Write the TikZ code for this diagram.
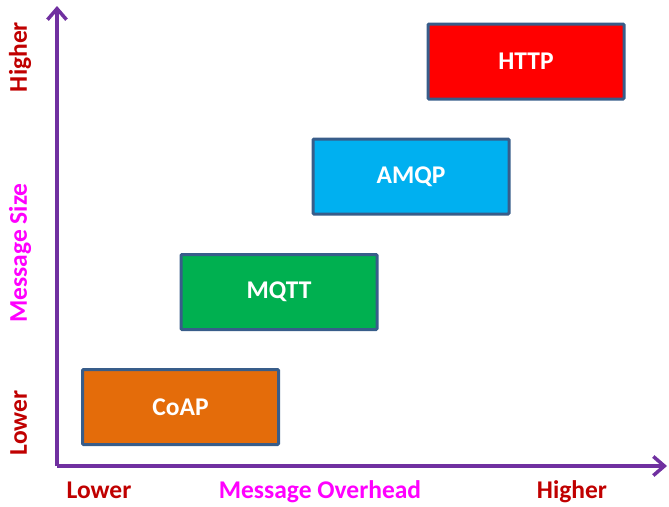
\documentclass[tikz,border=0pt]{standalone}
\usepackage{fontspec}
\setmainfont{Carlito}
\usetikzlibrary{arrows.meta}
\definecolor{axispurple}{HTML}{7030A0}
\definecolor{darkred}{HTML}{C00000}
\definecolor{pinkname}{HTML}{FF00FF}
\definecolor{boxedge}{HTML}{385D8A}
\definecolor{coapfill}{HTML}{E46C0A}
\definecolor{mqttfill}{HTML}{00B050}
\definecolor{amqpfill}{HTML}{00B0F0}
\definecolor{httpfill}{HTML}{FF0000}
\tikzset{
  proto/.style={draw=boxedge,line width=3pt,rounded corners=1pt,minimum width=196pt,minimum height=75pt,inner sep=0pt,text=white,font=\fontsize{25.5}{30}\selectfont\bfseries},
  axislabel/.style={anchor=base,inner sep=0pt,font=\fontsize{25.5}{30}\selectfont\bfseries}
}
\begin{document}
\begin{tikzpicture}[x=1pt,y=-1pt]
\useasboundingbox (0,0) rectangle (669,506);
\coordinate (O) at (57,466);
\coordinate (ytip) at (57,6);
\coordinate (xtip) at (667,466);
\draw[axispurple,line width=3.5pt,-{Straight Barb[length=11pt,width=19pt]}] (O) -- (ytip);
\draw[axispurple,line width=3.5pt,-{Straight Barb[length=11pt,width=19pt]}] (O) -- (xtip);
\node[proto,fill=coapfill] (coap) at (180.5,407) {CoAP};
\node[proto,fill=mqttfill] (mqtt) at (279,292) {MQTT};
\node[proto,fill=amqpfill] (amqp) at (411,176.5) {AMQP};
\node[proto,fill=httpfill] (http) at (526,61.5) {HTTP};
\node[axislabel,text=darkred] (xlow) at (99,498) {Lower};
\node[axislabel,text=pinkname] (xname) at (320,498) {Message Overhead};
\node[axislabel,text=darkred] (xhigh) at (572,498) {Higher};
\node[axislabel,text=darkred,rotate=90] (ylow) at (27,423) {Lower};
\node[axislabel,text=pinkname,rotate=90] (yname) at (27,253) {Message Size};
\node[axislabel,text=darkred,rotate=90] (yhigh) at (27,57) {Higher};
\end{tikzpicture}
\end{document}
